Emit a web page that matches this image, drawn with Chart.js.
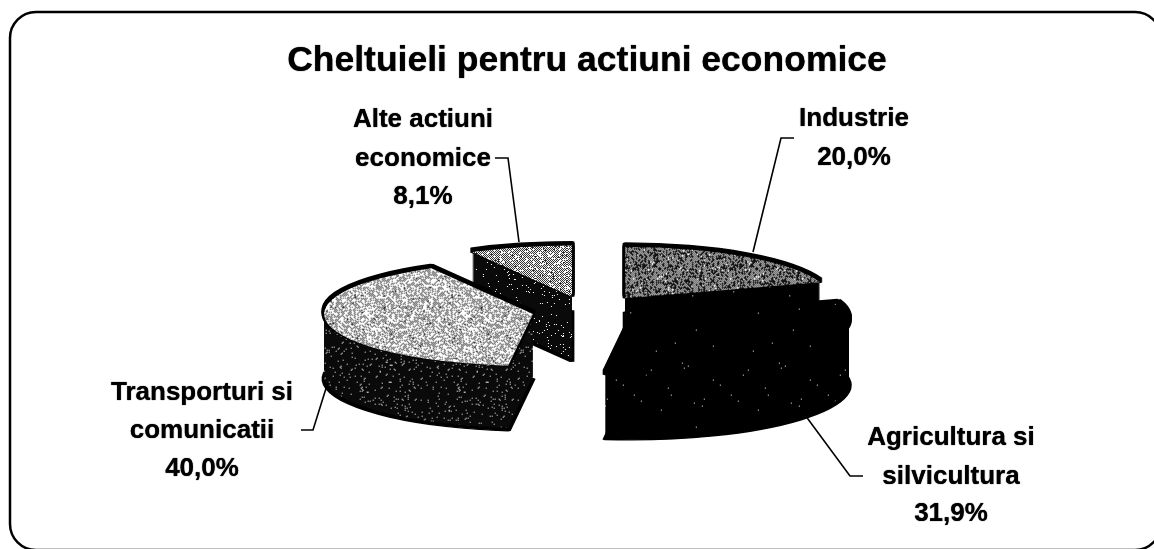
<!DOCTYPE html>
<html>
<head>
<meta charset="utf-8">
<title>Cheltuieli pentru actiuni economice</title>
<script src="https://cdn.jsdelivr.net/npm/chart.js@4"></script>
<style>
  html, body { margin: 0; padding: 0; background: #fff; overflow: hidden; }
  #wrap { width: 1154px; height: 549px; }
</style>
</head>
<body>
<div id="wrap"><canvas id="pieChart" width="1154" height="549"></canvas></div>
<script>
const chartTitle = "Cheltuieli pentru actiuni economice";
const categories = ["Industrie", "Agricultura si silvicultura", "Transporturi si comunicatii", "Alte actiuni economice"];
const values = [20.0, 31.9, 40.0, 8.1];
const labelLines = [["Industrie"], ["Agricultura si", "silvicultura"], ["Transporturi si", "comunicatii"], ["Alte actiuni", "economice"]];

// layout of the fake 3D look
const squash = 0.25;
const depth = 62;
const explode = [65, 57, 55, 60];
const drawOrder = [3, 2, 0, 1];
const labelX = [854, 951, 202, 423];
const labelY = [[119, 158], [438, 477, 514], [393, 431, 469], [120, 159, 197]];
const leaders = [
  [[794, 138], [781, 138], [753, 252]],
  [[805, 415], [850, 476], [863, 476]],
  [[301, 430], [313, 430], [328, 382]],
  [[495, 158], [508, 158], [519, 242]]
];

// dither tile, level = share of white pixels
function ditherTile(level, dark) {
  const size = 97;
  const c = document.createElement("canvas");
  c.width = c.height = size;
  const g = c.getContext("2d");
  const img = g.createImageData(size, size);
  const amp = Math.min(level, 1 - level) * 0.9;
  let seed = 12345;
  for (let y = 0; y < size; y++) {
    for (let x = 0; x < size; x++) {
      seed = (seed * 1103515 + 12345) & 0x7fffffff;
      const n = ((seed >> 12) % 1000) / 1000;
      const checker = (x + y) % 2 === 0 ? amp : -amp;
      const v = n < level + checker ? 255 : dark;
      const i = (y * size + x) * 4;
      img.data[i] = img.data[i + 1] = img.data[i + 2] = v;
      img.data[i + 3] = 255;
    }
  }
  g.putImageData(img, 0, 0);
  return g.createPattern(c, "repeat");
}

const topFills = [ditherTile(0.33, 20), ditherTile(0.002, 0), ditherTile(0.7, 40), ditherTile(0.55, 40)];
const sideFills = [ditherTile(0.002, 0), ditherTile(0.002, 0), ditherTile(0.04, 10), ditherTile(0.03, 10)];

function pinPattern(p, k, d) {
  p.setTransform(new DOMMatrix().scale(1 / k, 1 / (squash * k)).translate(0, -d));
}

const pie3d = {
  id: "pie3d",
  beforeDraw(chart) {
    const ctx = chart.ctx;
    ctx.save();
    ctx.fillStyle = "#fff";
    ctx.fillRect(0, 0, chart.width, chart.height);
    ctx.strokeStyle = "#000";
    ctx.lineWidth = 2.5;
    ctx.beginPath();
    ctx.roundRect(10, 12, 1151, 538, 26);
    ctx.stroke();
    ctx.restore();
    // soft edge for the title, like the scanned original
    ctx.shadowColor = "#000";
    ctx.shadowBlur = 1;
  },
  beforeDatasetsDraw(chart) {
    const ctx = chart.ctx;
    ctx.shadowBlur = 0;
    ctx.shadowColor = "transparent";
    const arcs = chart.getDatasetMeta(0).data;
    drawOrder.forEach(function (i) {
      const arc = arcs[i];
      const base = arc.options;
      const mid = (arc.startAngle + arc.endAngle) / 2;
      const k = 1 + 0.1 * Math.max(0, Math.sin(mid));
      const layer = function (d, fill, border) {
        ctx.save();
        ctx.translate(arc.x + Math.cos(mid) * explode[i], arc.y + Math.sin(mid) * explode[i] * squash + d);
        ctx.scale(k, squash * k);
        ctx.translate(-arc.x, -arc.y);
        arc.options = Object.assign({}, base, { backgroundColor: fill, borderColor: "#000", borderWidth: border });
        arc.draw(ctx);
        ctx.restore();
      };
      // black rim, then the side wall, then the top face
      layer(depth + 3, "#000", 5);
      for (let d = depth; d >= 0; d--) {
        pinPattern(sideFills[i], k, d);
        layer(d, sideFills[i], 0);
      }
      for (let d = 0; d >= -4; d--) layer(d, "#000", 5);
      pinPattern(topFills[i], k, 0);
      layer(0, topFills[i], 0);
      arc.options = base;
    });
    return false;
  },
  afterDraw(chart) {
    const ctx = chart.ctx;
    ctx.save();
    ctx.strokeStyle = "#000";
    ctx.lineWidth = 1.6;
    leaders.forEach(function (pts) {
      ctx.beginPath();
      pts.forEach(function (p, j) {
        if (j === 0) ctx.moveTo(p[0], p[1]);
        else ctx.lineTo(p[0], p[1]);
      });
      ctx.stroke();
    });
    ctx.fillStyle = "#000";
    ctx.shadowColor = "#000";
    ctx.shadowBlur = 1;
    ctx.font = "bold 26px 'Liberation Sans', Arial, sans-serif";
    ctx.textAlign = "center";
    ctx.textBaseline = "middle";
    categories.forEach(function (name, i) {
      const lines = labelLines[i].concat(values[i].toFixed(1).replace(".", ",") + "%");
      lines.forEach(function (line, j) {
        ctx.fillText(line, labelX[i], labelY[i][j]);
      });
    });
    ctx.restore();
  }
};

new Chart("pieChart", {
  type: "pie",
  data: {
    labels: categories,
    datasets: [{
      data: values,
      backgroundColor: topFills,
      borderWidth: 0
    }]
  },
  options: {
    responsive: false,
    animation: false,
    radius: 205,
    layout: { padding: { left: 20, right: 0, top: 0, bottom: 9 } },
    plugins: {
      legend: { display: false },
      tooltip: { enabled: false },
      title: {
        display: true,
        text: chartTitle,
        color: "#000",
        font: { family: "'Liberation Sans', Arial, sans-serif", size: 35.5, weight: "bold", lineHeight: 1.2 },
        padding: { top: 40, bottom: 0 }
      }
    }
  },
  plugins: [pie3d]
});
</script>
</body>
</html>
